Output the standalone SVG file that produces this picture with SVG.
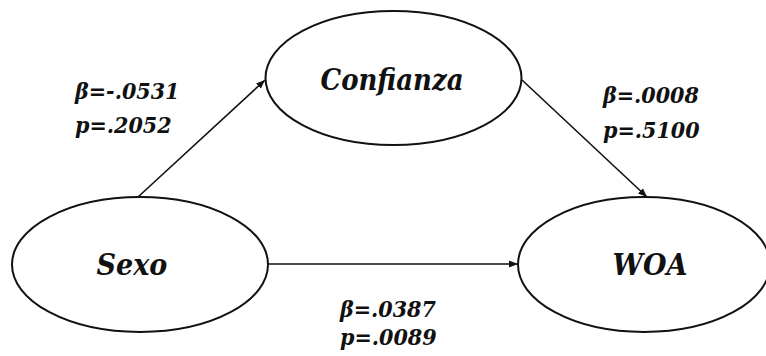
<svg xmlns="http://www.w3.org/2000/svg" width="766" height="356" viewBox="0 0 766 356">
<style>
.n{fill:#fff;stroke:#111;stroke-width:2}
.t{font-family:'DejaVu Serif Condensed','DejaVu Serif','Liberation Serif',serif;font-weight:bold;font-style:italic;fill:#111}
.nt{font-size:30px;text-anchor:middle}
.lt{font-size:23px}
.c{stroke:#111;stroke-width:1.6;fill:none}
</style>
<defs>
<marker id="ah" viewBox="0 0 10 10" refX="10" refY="5" markerWidth="9" markerHeight="9" markerUnits="userSpaceOnUse" orient="auto">
<path d="M0,1 L10,5 L0,9 z" fill="#111"/>
</marker>
</defs>
<g id="connectors">
<line class="c" x1="138" y1="197" x2="265" y2="80" marker-end="url(#ah)"/>
<line class="c" x1="522" y1="80" x2="647" y2="197" marker-end="url(#ah)"/>
<line class="c" x1="268" y1="264" x2="518" y2="264" marker-end="url(#ah)"/>
</g>
<g id="confianza">
<ellipse class="n" cx="393.5" cy="78" rx="128" ry="67"/>
<text class="t nt" x="392" y="90" textLength="143" lengthAdjust="spacingAndGlyphs">Confianza</text>
</g>
<g id="sexo">
<ellipse class="n" cx="140" cy="264.5" rx="128" ry="67.5"/>
<text class="t nt" x="132" y="275">Sexo</text>
</g>
<g id="woa">
<ellipse class="n" cx="644" cy="264.5" rx="126" ry="67.5"/>
<text class="t nt" x="650" y="275">WOA</text>
</g>
<g id="labels">
<text class="t lt" x="75" y="99">β=-.0531</text>
<text class="t lt" x="75" y="133">p=.2052</text>
<text class="t lt" x="603" y="103">β=.0008</text>
<text class="t lt" x="603" y="138">p=.5100</text>
<text class="t lt" x="340" y="317">β=.0387</text>
<text class="t lt" x="340" y="345">p=.0089</text>
</g>
</svg>
